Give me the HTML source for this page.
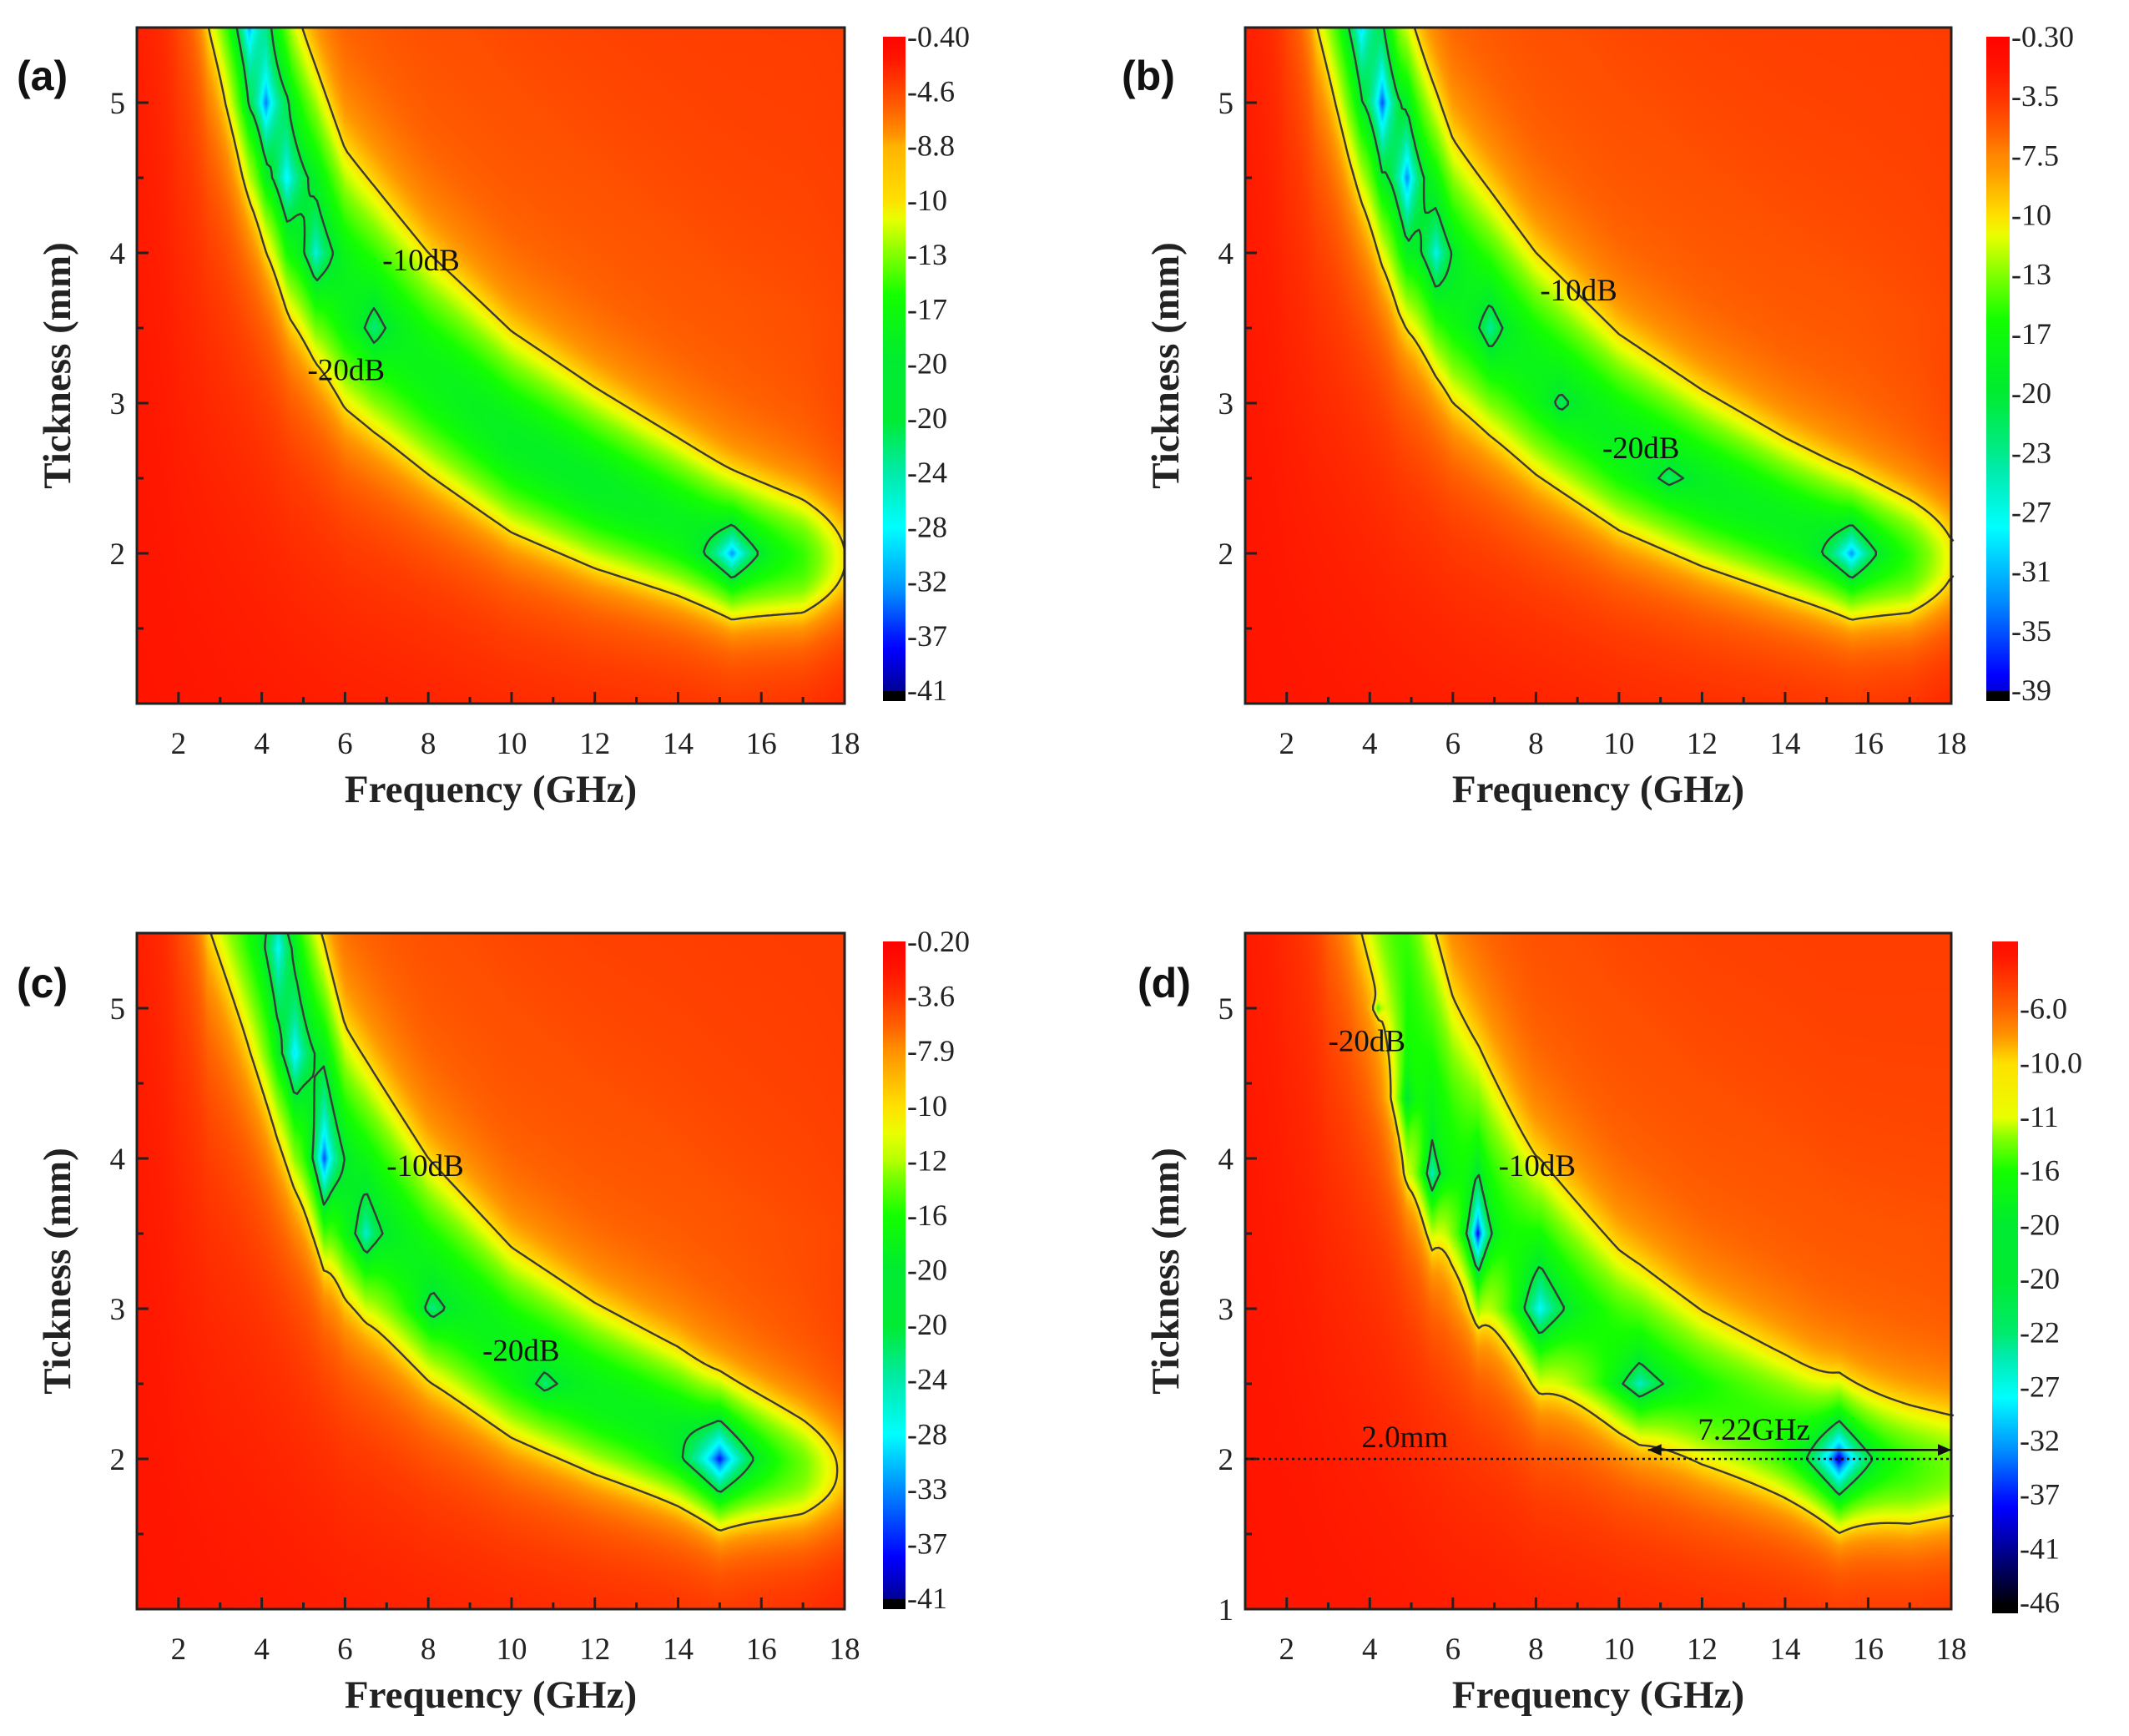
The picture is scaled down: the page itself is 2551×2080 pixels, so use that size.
<!DOCTYPE html>
<html><head><meta charset="utf-8">
<style>
html,body{margin:0;padding:0;background:#fff;}
#root{position:relative;width:2551px;height:2080px;overflow:hidden;background:#fff;}
canvas{position:absolute;}
svg{position:absolute;left:0;top:0;}
</style></head>
<body>
<div id="root">
<canvas id="ca"></canvas>
<canvas id="cb"></canvas>
<canvas id="cc"></canvas>
<canvas id="cd"></canvas>
<canvas id="ka"></canvas>
<canvas id="kb"></canvas>
<canvas id="kc"></canvas>
<canvas id="kd"></canvas>
<svg id="ov" width="2551" height="2080"></svg>
</div>
<script>
// ---- axis tick labels ----
const xTicks = [2,4,6,8,10,12,14,16,18];
const yTicksABC = [2,3,4,5];
const yTicksD = [1,2,3,4,5];
// ---- colorbar labels ----
const cbLabelsA = ["-0.40","-4.6","-8.8","-10","-13","-17","-20","-20","-24","-28","-32","-37","-41"];
const cbLabelsB = ["-0.30","-3.5","-7.5","-10","-13","-17","-20","-23","-27","-31","-35","-39"];
const cbLabelsC = ["-0.20","-3.6","-7.9","-10","-12","-16","-20","-20","-24","-28","-33","-37","-41"];
const cbLabelsD = ["","-6.0","-10.0","-11","-16","-20","-20","-22","-27","-32","-37","-41","-46"];
const cbValuesD = [-2,-6,-10,-11,-16,-20,-20,-22,-27,-32,-37,-41,-46];
// ---- ridge (matching thickness) per panel ----
const aRidgeF = [1,2,2.7,3.5,4.7,6,8,10,12,14,15.3,17,18];
const aRidgeD = [16,9,7.0,5.9,4.55,3.75,3.2,2.75,2.45,2.2,2.02,1.95,1.95];
const aRidgeA = [1,1,1,1,1,1,1,1.05,1.05,1,1,0.8,0.5];
const bRidgeF = [1,2,2.7,3.5,4.7,6,8,10,12,14,15.6,17,18];
const bRidgeD = [16,9,7.0,5.9,4.6,3.8,3.2,2.75,2.45,2.2,2.02,1.95,1.95];
const bRidgeA = [1,1,1,1,1,1,1,1.02,1.02,1,1,0.8,0.52];
const cRidgeF = [1,2,2.7,3.5,4.7,6,8,10,12,14,15,17,18];
const cRidgeD = [16,9,7.0,6.2,5.0,3.9,3.2,2.72,2.42,2.18,2.02,1.92,1.9];
const cRidgeA = [1,1,1,1,1,1,1,1,1,1,1,0.7,0.45];
const dRidgeF = [1,2,3,3.7,5.35,6,8,10,12,14,15.3,17,18];
const dRidgeD = [20,12,8.0,6.8,4.7,4.15,3.25,2.75,2.42,2.18,2.0,1.92,1.92];
const dRidgeA = [1,1,1,1,1,1,1,1,1,1,1,0.95,0.85];
// ---- local minima (wells) per panel ----
const aWellF = [3.7,4.1,4.6,5.3,6.7,15.3];
const aWellD = [5.5,5.0,4.5,4.0,3.5,2.0];
const aWellDepth = [14,16,11,9,5,15];
const aWellSF = [0.25,0.25,0.3,0.3,0.33,0.4];
const aWellSD = [0.35,0.3,0.3,0.25,0.17,0.125];
const bWellF = [3.8,4.3,4.9,5.6,6.9,8.6,11.2,15.6];
const bWellD = [5.5,5.0,4.5,4.0,3.5,3.0,2.5,2.0];
const bWellDepth = [12,18,16,9,6,4,4,15];
const bWellSF = [0.25,0.22,0.22,0.3,0.3,0.3,0.4,0.4];
const bWellSD = [0.35,0.3,0.3,0.25,0.18,0.1,0.08,0.125];
const cWellF = [4.4,4.8,5.5,6.5,8.1,10.8,15.0];
const cWellD = [5.4,4.7,4.0,3.5,3.0,2.5,2.0];
const cWellDepth = [10,12,20,9,6,5,20];
const cWellSF = [0.25,0.25,0.22,0.3,0.35,0.35,0.5];
const cWellSD = [0.4,0.3,0.3,0.2,0.12,0.09,0.17];
const dWellF = [4.2,4.9,5.5,6.6,8.1,10.5,15.3];
const dWellD = [5.0,4.4,3.9,3.5,3.0,2.5,2.0];
const dWellDepth = [6,10,14,26,14,11,26];
const dWellSF = [0.08,0.25,0.3,0.22,0.6,0.75,0.5];
const dWellSD = [0.04,0.35,0.3,0.25,0.29,0.18,0.19];

const panels = [
 {id:'a',L:164,R:1012,T:33,B:843,cbx:1058,cbw:27,cbTop:44,cbLab0:44,cbLab1:827,cbBot:840,labels:cbLabelsA,core:7.5,
  rf:aRidgeF,rd:aRidgeD,ra:aRidgeA,wf:aWellF,wd:aWellD,wD:aWellDepth,wsf:aWellSF,wsd:aWellSD,yt:yTicksABC,tag:'(a)',tx:20,ty:108,
  notes:[['-10dB',6.9,3.95],['-20dB',5.1,3.22]]},
 {id:'b',L:1492,R:2338,T:33,B:843,cbx:2380,cbw:28,cbTop:44,cbLab0:44,cbLab1:827,cbBot:840,labels:cbLabelsB,core:7.5,
  rf:bRidgeF,rd:bRidgeD,ra:bRidgeA,wf:bWellF,wd:bWellD,wD:bWellDepth,wsf:bWellSF,wsd:bWellSD,yt:yTicksABC,tag:'(b)',tx:1344,ty:108,
  notes:[['-10dB',8.1,3.75],['-20dB',9.6,2.7]]},
 {id:'c',L:164,R:1012,T:1118,B:1928,cbx:1058,cbw:27,cbTop:1128,cbLab0:1128,cbLab1:1915,cbBot:1928,labels:cbLabelsC,core:7.5,
  rf:cRidgeF,rd:cRidgeD,ra:cRidgeA,wf:cWellF,wd:cWellD,wD:cWellDepth,wsf:cWellSF,wsd:cWellSD,yt:yTicksABC,tag:'(c)',tx:20,ty:1195,
  notes:[['-10dB',7.0,3.95],['-20dB',9.3,2.72]]},
 {id:'d',L:1492,R:2338,T:1118,B:1928,cbx:2387,cbw:31,cbTop:1128,cbLab0:1144,cbLab1:1920,cbBot:1933,labels:cbLabelsD,vals:cbValuesD,core:4.5,
  rf:dRidgeF,rd:dRidgeD,ra:dRidgeA,wf:dWellF,wd:dWellD,wD:dWellDepth,wsf:dWellSF,wsd:dWellSD,yt:yTicksD,tag:'(d)',tx:1363,ty:1195,
  notes:[['-20dB',3.0,4.78],['-10dB',7.1,3.95]]}
];

const cstops = [[0,255,0,0],[-2,255,22,0],[-4,255,60,0],[-6,255,100,0],[-8,255,150,0],[-10,255,225,0],[-11,235,255,0],[-13,130,255,0],[-16,20,255,0],[-20,0,235,50],[-24,0,235,170],[-28,0,255,255],[-33,0,140,255],[-38,0,0,255],[-41,0,0,150],[-46,0,0,10]];
function cmap(v){
  if(v>=cstops[0][0]) return cstops[0].slice(1);
  for(let i=1;i<cstops.length;i++){
    if(v>=cstops[i][0]){const a=cstops[i-1],b=cstops[i];const t=(a[0]-v)/(a[0]-b[0]);
      return [a[1]+(b[1]-a[1])*t,a[2]+(b[2]-a[2])*t,a[3]+(b[3]-a[3])*t];}
  }
  return cstops[cstops.length-1].slice(1);
}
function interp(xs,ys,x){
  if(x<=xs[0]) return ys[0];
  for(let i=1;i<xs.length;i++) if(x<=xs[i]){const t=(x-xs[i-1])/(xs[i]-xs[i-1]);return ys[i-1]+(ys[i]-ys[i-1])*t;}
  return ys[ys.length-1];
}
function rl(p,f,d){
  const d0=interp(p.rf,p.rd,f), a=interp(p.rf,p.ra,f), s=0.21*d0, u=(d-d0)/s;
  const k=u>0?1.8:1.4;
  const base=-1.0-0.8*(f-1)/17-(u>0?2.0*Math.min(1,u/4):0);
  let v=base - a*(p.core*Math.exp(-u*u)+9/(1+(u/k)*(u/k)));
  for(let i=0;i<p.wf.length;i++){
    v-=p.wD[i]*Math.exp(-(Math.abs(f-p.wf[i])/p.wsf[i]+Math.abs(d-p.wd[i])/p.wsd[i]));
  }
  return v;
}
const NS='http://www.w3.org/2000/svg';
const ov=document.getElementById('ov');
function mk(tag,attrs,parent){const e=document.createElementNS(NS,tag);for(const k in attrs)e.setAttribute(k,attrs[k]);(parent||ov).appendChild(e);return e;}

panels.forEach(p=>{
  const W=p.R-p.L,H=p.B-p.T;
  const xs=f=>p.L+(f-1)/17*W, ys=d=>p.B-(d-1)/4.5*H;
  const cv=document.getElementById('c'+p.id);
  const cw=Math.round(W/2),ch=Math.round(H/2);
  cv.width=cw;cv.height=ch;
  cv.style.left=p.L+'px';cv.style.top=p.T+'px';cv.style.width=W+'px';cv.style.height=H+'px';
  const ctx=cv.getContext('2d');const img=ctx.createImageData(cw,ch);
  for(let j=0;j<ch;j++){const d=5.5-(j+0.5)/ch*4.5;
    for(let i=0;i<cw;i++){const f=1+(i+0.5)/cw*17;const c=cmap(rl(p,f,d));const o=(j*cw+i)*4;
      img.data[o]=c[0];img.data[o+1]=c[1];img.data[o+2]=c[2];img.data[o+3]=255;}}
  ctx.putImageData(img,0,0);
  const kv=document.getElementById('k'+p.id);
  const kh=p.cbBot-p.cbTop;kv.width=p.cbw;kv.height=kh;
  kv.style.left=p.cbx+'px';kv.style.top=p.cbTop+'px';
  const kx=kv.getContext('2d');
  const vals=p.vals||p.labels.map(Number);
  const n=vals.length,sp=(p.cbLab1-p.cbLab0)/(n-1);
  for(let y=0;y<kh;y++){
    const Y=p.cbTop+y;let v;
    if(Y>p.cbLab1) v=-60;
    else{const t=(Y-p.cbLab0)/sp;const i=Math.max(0,Math.min(n-2,Math.floor(t)));const fr=t-i;v=vals[i]+(vals[i+1]-vals[i])*fr;if(t<0)v=vals[0]+(vals[0]-vals[1])*(-t)*0.5;}
    const c=v<-50?[0,0,0]:cmap(v);kx.fillStyle=`rgb(${c[0]|0},${c[1]|0},${c[2]|0})`;kx.fillRect(0,y,p.cbw,1);
  }
  const g=mk('g',{});
  const step=4,gx=Math.ceil(W/step)+1,gy=Math.ceil(H/step)+1;
  const grid=new Float32Array(gx*gy);
  for(let j=0;j<gy;j++)for(let i=0;i<gx;i++){const X=Math.min(W,i*step),Y=Math.min(H,j*step);
    grid[j*gx+i]=rl(p,1+X/W*17,5.5-Y/H*4.5);}
  [-10,-20].forEach(lv=>{
    let dstr='';
    for(let j=0;j<gy-1;j++)for(let i=0;i<gx-1;i++){
      const v0=grid[j*gx+i],v1=grid[j*gx+i+1],v2=grid[(j+1)*gx+i+1],v3=grid[(j+1)*gx+i];
      const x0=p.L+i*step,y0=p.T+j*step;
      const pts=[];
      const e=(va,vb,ax,ay,bx,by)=>{if((va<lv)!==(vb<lv)){const t=(lv-va)/(vb-va);pts.push([ax+(bx-ax)*t,ay+(by-ay)*t]);}};
      e(v0,v1,x0,y0,x0+step,y0);e(v1,v2,x0+step,y0,x0+step,y0+step);e(v2,v3,x0+step,y0+step,x0,y0+step);e(v3,v0,x0,y0+step,x0,y0);
      for(let k=0;k+1<pts.length;k+=2) dstr+=`M${pts[k][0].toFixed(1)} ${pts[k][1].toFixed(1)}L${pts[k+1][0].toFixed(1)} ${pts[k+1][1].toFixed(1)}`;
    }
    mk('path',{d:dstr,stroke:'#3a3a3a','stroke-width':2.4,fill:'none','stroke-linecap':'round',},g);
  });
  mk('rect',{x:p.L,y:p.T,width:W,height:H,fill:'none',stroke:'#222','stroke-width':3,},g);
  for(let f=2;f<=18;f++){const x=xs(f);const len=f%2===0?14:8;
    mk('line',{x1:x,y1:p.B,x2:x,y2:p.B-len,stroke:'#222','stroke-width':3,},g);}
  xTicks.forEach(f=>{const t=mk('text',{x:xs(f),y:p.B+60,'text-anchor':'middle','font-family':'Liberation Serif, serif','font-size':37,fill:'#222',},g);t.textContent=f;});
  for(let d=1.5;d<=5.5;d+=0.5){const y=ys(d);const len=Number.isInteger(d)?14:8;
    mk('line',{x1:p.L,y1:y,x2:p.L+len,y2:y,stroke:'#222','stroke-width':3,},g);}
  p.yt.forEach(d=>{const t=mk('text',{x:p.L-14,y:ys(d)+13,'text-anchor':'end','font-family':'Liberation Serif, serif','font-size':37,fill:'#222',},g);t.textContent=d;});
  let t=mk('text',{x:(p.L+p.R)/2,y:p.B+118,'text-anchor':'middle','font-family':'Liberation Serif, serif','font-weight':'bold','font-size':47,fill:'#222',},g);t.textContent='Frequency (GHz)';
  const cy=(p.T+p.B)/2,cx=p.L-80;
  t=mk('text',{x:cx,y:cy,transform:`rotate(-90 ${cx} ${cy})`,'text-anchor':'middle','font-family':'Liberation Serif, serif','font-weight':'bold','font-size':47,fill:'#222',},g);t.textContent='Tickness (mm)';
  t=mk('text',{x:p.tx,y:p.ty,'font-family':'Liberation Sans, sans-serif','font-weight':'bold','font-size':50,fill:'#111',},g);t.textContent=p.tag;
  p.labels.forEach((lab,i)=>{if(!lab)return;const y=p.cbLab0+i*sp;
    const tt=mk('text',{x:p.cbx+p.cbw+2,y:y+12,'font-family':'Liberation Serif, serif','font-size':36,fill:'#222',},g);tt.textContent=lab;});
  p.notes.forEach(n=>{const tt=mk('text',{x:xs(n[1]),y:ys(n[2])+12,'font-family':'Liberation Serif, serif','font-size':37,fill:'#111',},g);tt.textContent=n[0];});
  if(p.id==='d'){
    mk('line',{x1:p.L,y1:ys(2),x2:p.R,y2:ys(2),stroke:'#111','stroke-width':2.5,'stroke-dasharray':'3,4',},g);
    const ya=ys(2.06),x1=xs(10.7),x2=xs(18);
    mk('line',{x1:x1,y1:ya,x2:x2,y2:ya,stroke:'#111','stroke-width':2.5,},g);
    mk('path',{d:`M${x1} ${ya}l16 -7v14z M${x2} ${ya}l-16 -7v14z`,fill:'#111',},g);
    let a=mk('text',{x:xs(3.8),y:ys(2)-14,'font-family':'Liberation Serif, serif','font-size':37,fill:'#111',},g);a.textContent='2.0mm';
    a=mk('text',{x:xs(11.9),y:ys(2.06)-12,'font-family':'Liberation Serif, serif','font-size':37,fill:'#111',},g);a.textContent='7.22GHz';
  }
});
</script>
</body></html>
